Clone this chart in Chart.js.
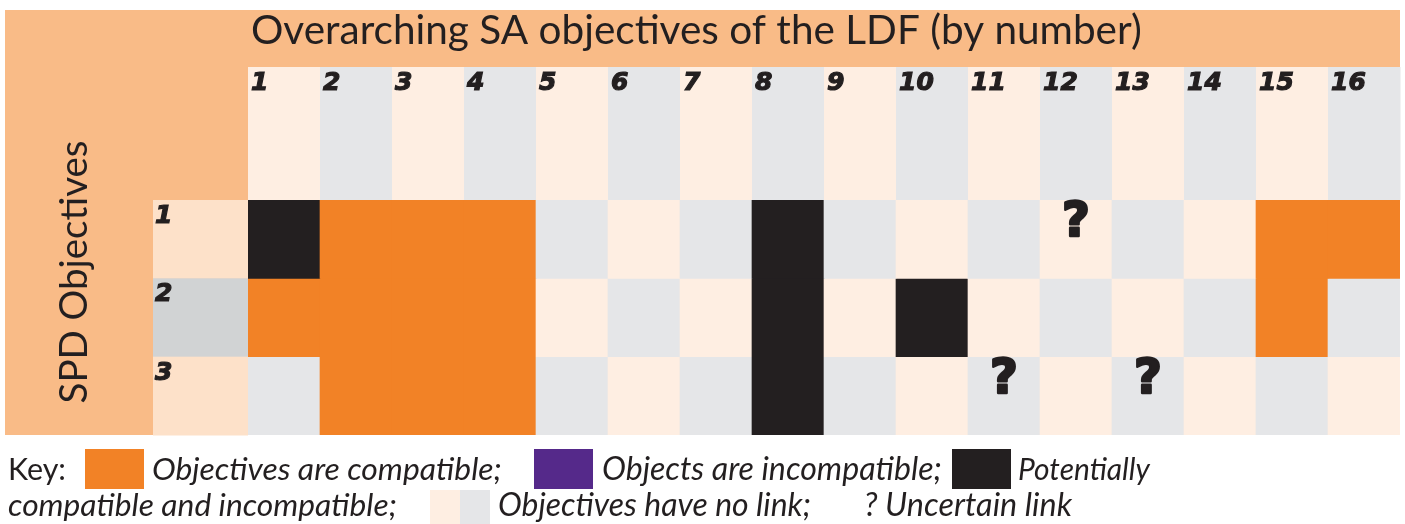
<!DOCTYPE html>
<html>
<head>
<meta charset="utf-8">
<script src="https://cdn.jsdelivr.net/npm/chart.js@4.4.1/dist/chart.umd.min.js"></script>
<style>
  html, body { margin: 0; padding: 0; background: #ffffff; }
  #wrap { width: 1405px; height: 524px; position: relative; }
</style>
</head>
<body>
<div id="wrap"><canvas id="c"></canvas></div>
<script>
// ---- Data ----
const title = 'Overarching SA objectives of the LDF (by number)';
const yTitle = 'SPD Objectives';
const columns = ['1','2','3','4','5','6','7','8','9','10','11','12','13','14','15','16'];
const rowLabels = ['1','2','3'];
// Link codes: 0 = no link, 1 = compatible, 2 = incompatible, 3 = potentially compatible and incompatible
const row1 = [3,1,1,1,0,0,0,3,0,0,0,0,0,0,1,1];
const row2 = [1,1,1,1,0,0,0,3,0,3,0,0,0,0,1,0];
const row3 = [0,1,1,1,0,0,0,3,0,0,0,0,0,0,0,0];
// Uncertain link flags (shown as "?")
const unsure1 = [0,0,0,0,0,0,0,0,0,0,0,1,0,0,0,0];
const unsure2 = [0,0,0,0,0,0,0,0,0,0,0,0,0,0,0,0];
const unsure3 = [0,0,0,0,0,0,0,0,0,0,1,0,1,0,0,0];
const legendLine1 = ['Key:', 'Objectives are compatible;', 'Objects are incompatible;', 'Potentially'];
const legendLine2 = ['compatible and incompatible;', 'Objectives have no link;', '? Uncertain link'];

// ---- Style ----
const C = {
  panel: '#F9BB87',
  peach: '#FEEEE2',
  grey: '#E5E6E8',
  rowPeach: '#FDE1C9',
  rowGrey: '#D1D3D4',
  compatible: '#F28226',
  incompatible: '#55298A',
  both: '#231F20',
  text: '#231F20'
};
const codeColor = {1: C.compatible, 2: C.incompatible, 3: C.both};
const rows = [row1, row2, row3];
const unsure = [unsure1, unsure2, unsure3];

function cellColors(row, r) {
  return row.map((code, i) => {
    if (code !== 0) return codeColor[code];
    return ((i + r) % 2 === 0) ? C.grey : C.peach;
  });
}

const FAM = 'Lato, "Open Sans", sans-serif';
const NUMFONT = 'italic bold 25px "DejaVu Sans", sans-serif';
function fit(ctx, text, targetW, style, base) {
  ctx.font = `${style} ${base}px ${FAM}`;
  const w = ctx.measureText(text).width;
  const s = base * targetW / w;
  ctx.font = `${style} ${s.toFixed(2)}px ${FAM}`;
}
function boldText(ctx, t, x, y) {
  ctx.lineWidth = 1.2;
  ctx.strokeStyle = C.text;
  ctx.fillText(t, x, y);
  ctx.strokeText(t, x, y);
}

const backdrop = {
  id: 'backdrop',
  beforeDraw(chart) {
    const ctx = chart.ctx;
    const xs = chart.scales.x;
    const area = chart.chartArea;
    const half = (xs.getPixelForValue(1) - xs.getPixelForValue(0)) / 2;
    ctx.save();
    ctx.fillStyle = '#ffffff';
    ctx.fillRect(0, 0, chart.width, chart.height);
    // orange panel
    ctx.fillStyle = C.panel;
    ctx.fillRect(5, 10, area.right - 5, area.bottom - 10);
    // title
    ctx.fillStyle = C.text;
    ctx.textBaseline = 'alphabetic';
    ctx.textAlign = 'left';
    fit(ctx, title, 891, '400', 39);
    ctx.fillText(title, 251, 44);
    // header cells
    const headTop = 67;
    columns.forEach((lab, i) => {
      const x0 = xs.getPixelForValue(i) - half;
      ctx.fillStyle = (i % 2 === 0) ? C.peach : C.grey;
      ctx.fillRect(x0, headTop, half * 2 + 0.5, area.top - headTop);
      ctx.fillStyle = C.text;
      ctx.font = NUMFONT;
      ctx.textAlign = 'left';
      boldText(ctx, lab, x0 + 3, 90);
    });
    // row label cells
    const rowH = (area.bottom - area.top) / rowLabels.length;
    rowLabels.forEach((lab, r) => {
      const y0 = area.top + r * rowH;
      ctx.fillStyle = (r % 2 === 1) ? C.rowGrey : C.rowPeach;
      ctx.fillRect(153, y0, area.left - 153, rowH + 0.5);
      ctx.fillStyle = C.text;
      ctx.font = NUMFONT;
      boldText(ctx, lab, 155, y0 + 23);
    });
    // y title
    ctx.save();
    ctx.translate(87, 272);
    ctx.rotate(-Math.PI / 2);
    ctx.textAlign = 'center';
    fit(ctx, yTitle, 263, '400', 38);
    ctx.fillStyle = C.text;
    ctx.fillText(yTitle, 0, 0);
    ctx.restore();

    // legend
    const sw = (x, y, w, h, col) => { ctx.fillStyle = col; ctx.fillRect(x, y, w, h); };
    ctx.textAlign = 'left';
    ctx.fillStyle = C.text;
    fit(ctx, legendLine1[0], 58, '400', 28);
    ctx.fillText(legendLine1[0], 8, 480);
    sw(85, 449, 59, 40, C.compatible);
    ctx.fillStyle = C.text;
    fit(ctx, legendLine1[1], 350, 'italic 400', 28);
    ctx.fillText(legendLine1[1], 152, 480);
    sw(534, 449, 59, 40, C.incompatible);
    ctx.fillStyle = C.text;
    fit(ctx, legendLine1[2], 340, 'italic 400', 28);
    ctx.fillText(legendLine1[2], 602, 480);
    sw(952, 449, 59, 40, C.both);
    ctx.fillStyle = C.text;
    fit(ctx, legendLine1[3], 132, 'italic 400', 28);
    ctx.fillText(legendLine1[3], 1018, 480);

    fit(ctx, legendLine2[0], 389, 'italic 400', 28);
    ctx.fillText(legendLine2[0], 8, 516);
    sw(430, 490, 30, 34, C.peach);
    sw(460, 490, 30, 34, C.grey);
    ctx.fillStyle = C.text;
    fit(ctx, legendLine2[1], 313, 'italic 400', 28);
    ctx.fillText(legendLine2[1], 498, 516);
    fit(ctx, legendLine2[2], 208, 'italic 400', 28);
    ctx.fillText(legendLine2[2], 864, 516);
    ctx.restore();
  },
  afterDatasetsDraw(chart) {
    const ctx = chart.ctx;
    ctx.save();
    ctx.fillStyle = C.text;
    ctx.strokeStyle = C.text;
    ctx.lineWidth = 2.5;
    ctx.lineJoin = 'round';
    ctx.textAlign = 'center';
    ctx.textBaseline = 'alphabetic';
    ctx.font = 'bold 48px "DejaVu Sans", sans-serif';
    unsure.forEach((flags, r) => {
      const meta = chart.getDatasetMeta(r);
      flags.forEach((f, i) => {
        if (!f) return;
        const bar = meta.data[i];
        const top = Math.min(bar.y, bar.base);
        ctx.fillText('?', bar.x, top + 36);
        ctx.strokeText('?', bar.x, top + 36);
      });
    });
    ctx.restore();
  }
};

new Chart(document.getElementById('c'), {
  type: 'bar',
  data: {
    labels: columns,
    datasets: rows.map((row, r) => ({
      label: 'SPD objective ' + rowLabels[r],
      data: row.map(() => 1),
      backgroundColor: cellColors(row, r),
      borderWidth: 0,
      categoryPercentage: 1,
      barPercentage: 1,
      stack: 's'
    }))
  },
  options: {
    responsive: true,
    maintainAspectRatio: false,
    animation: false,
    layout: { padding: { left: 248, right: 5, top: 200, bottom: 89 } },
    plugins: { legend: { display: false }, tooltip: { enabled: false } },
    scales: {
      x: { display: false, stacked: true, offset: true },
      y: { display: false, stacked: true, min: 0, max: 3, reverse: true }
    }
  },
  plugins: [backdrop]
});
</script>
</body>
</html>
